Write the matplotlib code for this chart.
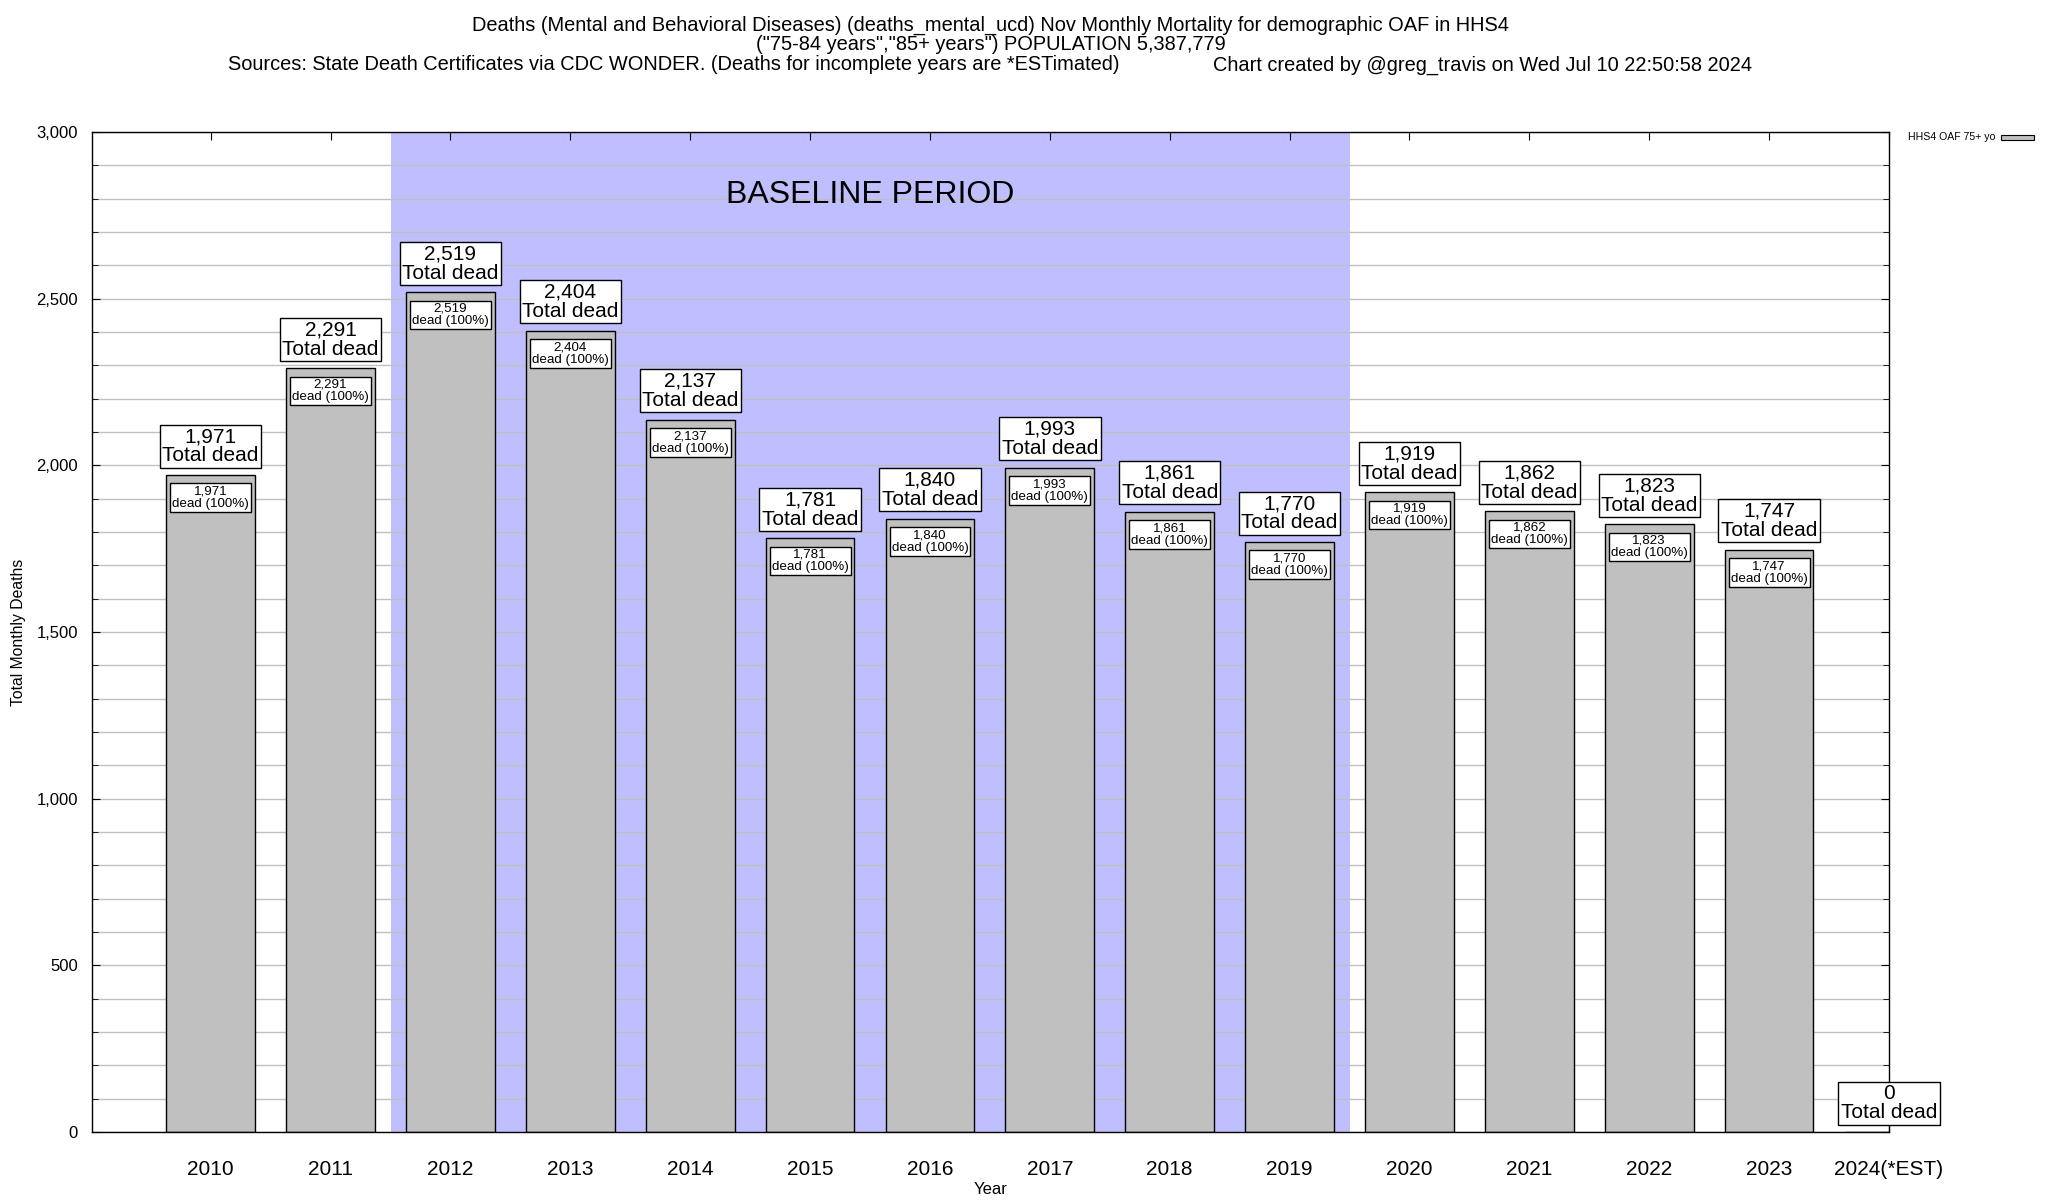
import matplotlib
matplotlib.use("Agg")
import matplotlib.pyplot as plt
from matplotlib.ticker import MultipleLocator, FuncFormatter
from matplotlib.patches import Rectangle

plt.rcParams['font.family'] = ['Liberation Sans', 'DejaVu Sans']

years = ['2010', '2011', '2012', '2013', '2014', '2015', '2016', '2017',
         '2018', '2019', '2020', '2021', '2022', '2023', '2024(*EST)']
deaths = [1971, 2291, 2519, 2404, 2137, 1781, 1840, 1993, 1861, 1770,
          1919, 1862, 1823, 1747, 0]
baseline_start, baseline_end = 1.5, 9.5

title_lines = [
    "Deaths (Mental and Behavioral Diseases) (deaths_mental_ucd) Nov Monthly Mortality for demographic OAF in HHS4",
    "(\"75-84 years\",\"85+ years\") POPULATION 5,387,779",
]
sources = "Sources: State Death Certificates via CDC WONDER. (Deaths for incomplete years are *ESTimated)"
credit = "Chart created by @greg_travis on Wed Jul 10 22:50:58 2024"
legend_label = "HHS4 OAF 75+ yo"

fig = plt.figure(figsize=(20.48, 12), dpi=100)
ax = fig.add_axes([92/2048, 1-1132/1200, (1889-92)/2048, (1132-132)/1200])

x = list(range(len(years)))
ax.axvspan(baseline_start, baseline_end, color='#bfbfff', zorder=0, lw=0)
ax.bar(x, deaths, width=0.74, color='#c0c0c0', edgecolor='black', linewidth=1.0, zorder=2)

ax.set_xlim(-0.99, len(years) - 1)
ax.set_ylim(0, 3000)
ax.yaxis.set_major_locator(MultipleLocator(500))
ax.yaxis.set_minor_locator(MultipleLocator(100))
ax.yaxis.set_major_formatter(FuncFormatter(lambda v, p: f"{int(v):,}"))
ax.grid(True, which='both', axis='y', color='#c0c0c0', linewidth=1.0, zorder=1)
ax.set_axisbelow(True)
ax.set_xticks(x)
ax.set_xticklabels(years, fontsize=15)
ax.tick_params(axis='x', direction='in', top=True, bottom=True, length=6, pad=20)
ax.tick_params(axis='y', which='both', direction='in', left=True, right=True, labelsize=12, pad=10)
ax.tick_params(axis='y', which='major', length=6)
ax.tick_params(axis='y', which='minor', length=4)
for s in ax.spines.values():
    s.set_linewidth(1.0)

for xi, v in zip(x, deaths):
    ax.annotate(f"{v:,}\nTotal dead", xy=(xi, v), xytext=(0, 7), textcoords='offset points',
                ha='center', va='bottom', fontsize=15, linespacing=1.0, zorder=5,
                bbox=dict(boxstyle='square,pad=0.12', fc='white', ec='black', lw=1.0),
                annotation_clip=False)
    if v > 0:
        ax.annotate(f"{v:,}\ndead (100%)", xy=(xi, v), xytext=(0, -7.5), textcoords='offset points',
                    ha='center', va='top', fontsize=9.6, linespacing=1.05, zorder=5,
                    bbox=dict(boxstyle='square,pad=0.15', fc='white', ec='black', lw=1.0))

ax.text((baseline_start + baseline_end) / 2, 2810, "BASELINE PERIOD", ha='center', va='center',
        fontsize=23, zorder=3)

ax.set_ylabel("Total Monthly Deaths", fontsize=11.3)
ax.yaxis.set_label_coords(-0.0365, 0.5)
fig.text((92 + 1889) / 2 / 2048, 1 - 1189/1200, "Year", ha='center', va='center', fontsize=12)

cx = (92 + 1889) / 2 / 2048
fig.text(cx, 1 - 25.5/1200, title_lines[0], ha='center', va='center', fontsize=14.4)
fig.text(cx, 1 - 45/1200, title_lines[1], ha='center', va='center', fontsize=14.4)
fig.text(228/2048, 1 - 65/1200, sources, ha='left', va='center', fontsize=14.4)
fig.text(1752/2048, 1 - 65/1200, credit, ha='right', va='center', fontsize=14.4)

fig.text(1908/2048, 1 - 137/1200, legend_label, ha='left', va='center', fontsize=7.6)
fig.patches.append(Rectangle((2001/2048, 1 - 139.5/1200), 33/2048, 5/1200,
                             transform=fig.transFigure, fc='#c0c0c0', ec='black', lw=0.8))

fig.savefig("out.png", dpi=100)
